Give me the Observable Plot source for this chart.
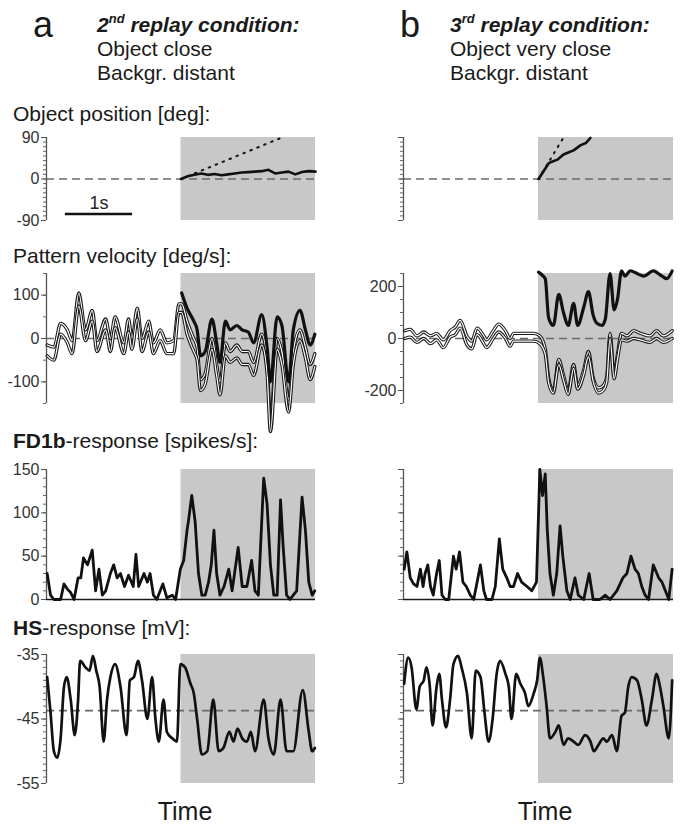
<!DOCTYPE html>
<html><head><meta charset="utf-8">
<script src="https://cdn.jsdelivr.net/npm/d3@7"></script>
<script src="https://cdn.jsdelivr.net/npm/@observablehq/plot@0.6"></script>
<style>
body{margin:0;background:#fff;}
#fig{position:relative;width:683px;height:825px;font-family:"Liberation Sans",Arial,sans-serif;overflow:hidden;}
</style></head><body><div id="fig"></div>
<script>
// ---------- texts ----------
const panelLetters = ["a", "b"];
const conditionNumbers = ["2", "3"];
const conditionSuffixes = ["nd", "rd"];
const conditionTitle = " replay condition:";
const objectDistance = ["Object close", "Object very close"];
const backgroundDistance = ["Backgr. distant", "Backgr. distant"];
const rowBold = ["", "", "FD1b", "HS"];
const rowRest = ["Object position [deg]:", "Pattern velocity [deg/s]:", "-response [spikes/s]:", "-response [mV]:"];
const xAxisLabel = "Time";
const scaleBarLabel = "1s";

// ---------- time window (s) ----------
const timeDomain = [0, 4];
const shadeSpan = [2, 4];
const scaleBarStart = 0.28, scaleBarLength = 1, scaleBarLevel = -76;

// ---------- row 1: object position [deg] ----------
const posTimeL = [2.0,2.1,2.2,2.3,2.4,2.5,2.6,2.7,2.8,2.9,3.0,3.1,3.2,3.3,3.4,3.5,3.6,3.7,3.8,3.9,4.0];
const posObjL  = [0,6,9,12,9,11,8,10,12,14,15,16,17,20,12,14,16,10,15,17,16];
const idealTimeL = [2.0, 3.5];
const idealL = [0, 90];
const posTimeR = [2.0,2.08,2.15,2.19,2.28,2.37,2.45,2.52,2.62,2.7,2.77];
const posObjR  = [0,18,34,37,42,53,58,62,73,78,89];
const idealTimeR = [2.0, 2.37];
const idealR = [0, 90];

// ---------- row 2: pattern velocity [deg/s] ----------
const velBgTimeL = [0.01,0.11,0.21,0.31,0.38,0.48,0.58,0.68,0.75,0.88,0.95,1.02,1.15,1.22,1.27,1.35,1.42,1.52,1.59,1.69,1.79,1.89,1.97,
  2.01,2.09,2.19,2.24,2.29,2.36,2.46,2.53,2.58,2.66,2.73,2.83,2.91,3.0,3.08,3.2,3.28,3.33,3.43,3.5,3.6,3.67,3.77,3.85,3.92,3.99];
const velBgAL = [-15,-20,35,20,-5,105,20,65,-5,45,0,50,-10,45,0,70,0,40,-10,20,-10,-5,80,
  80,40,0,-20,-95,-80,0,-60,-100,-10,-30,-15,-30,-30,-55,10,-50,-190,0,-30,-140,-30,20,-20,-60,-35];
const velBgBL = [-40,-50,10,-10,-35,75,-5,40,-30,20,-30,25,-35,15,-25,45,-30,15,-35,-5,-35,-35,60,
  60,10,-30,-50,-120,-105,-25,-85,-130,-40,-55,-45,-60,-60,-85,-15,-80,-215,-25,-60,-170,-60,-5,-45,-95,-65];
const velObjTimeL = [2.01,2.09,2.19,2.24,2.29,2.36,2.46,2.53,2.58,2.66,2.73,2.83,2.91,3.0,3.08,3.2,3.28,3.33,3.43,3.5,3.6,3.67,3.77,3.85,3.92,3.99];
const velObjL = [105,70,40,20,-40,-30,45,-10,-55,40,20,30,20,15,-10,55,-20,-100,50,30,-100,20,65,20,-15,10];

const velBgTimeR = [0.02,0.1,0.2,0.3,0.4,0.49,0.59,0.69,0.77,0.84,0.94,1.01,1.09,1.19,1.23,1.33,1.41,1.51,1.58,1.63,1.78,1.93,2.02,
  2.1,2.15,2.22,2.3,2.37,2.44,2.52,2.58,2.67,2.74,2.81,2.89,2.96,3.01,3.06,3.12,3.17,3.23,3.31,3.41,3.51,3.65,3.75,3.85,3.98];
const velBgAR = [30,35,10,25,10,20,-5,30,45,70,10,-10,40,10,-5,30,55,30,0,20,20,20,10,
  -40,-150,-200,-80,-140,-200,-100,-180,-120,-50,-150,-190,-180,-150,20,-140,-60,20,10,30,20,10,30,10,30];
const velBgBR = [0,5,-15,0,-20,-5,-35,5,15,40,-25,-40,15,-20,-35,0,25,0,-30,-10,-10,-10,-20,
  -60,-170,-210,-100,-160,-215,-115,-195,-140,-70,-165,-210,-200,-170,0,-155,-80,-5,-10,0,-5,-15,0,-15,0];
const velObjTimeR = [2.0,2.07,2.1,2.15,2.22,2.3,2.37,2.44,2.52,2.58,2.67,2.74,2.81,2.86,2.94,2.99,3.06,3.12,3.17,3.23,3.28,3.36,3.46,3.56,3.7,3.83,3.9,3.98];
const velObjR = [255,240,230,80,50,170,100,50,135,50,120,180,90,60,50,75,250,110,150,260,240,260,250,240,260,240,230,260];

// ---------- row 3: FD1b response [spikes/s] ----------
const fdTimeL = [0.01,0.06,0.11,0.21,0.26,0.31,0.36,0.41,0.47,0.51,0.55,0.61,0.68,0.73,0.78,0.83,0.88,0.95,1.0,1.05,1.10,1.16,1.22,1.29,1.33,
  1.37,1.45,1.50,1.54,1.59,1.64,1.73,1.79,1.87,1.92,1.99,2.04,2.09,2.11,2.16,2.21,2.26,2.31,2.36,2.41,2.45,2.49,2.53,2.58,2.64,
  2.71,2.76,2.85,2.91,2.98,3.05,3.10,3.15,3.23,3.28,3.33,3.38,3.43,3.48,3.52,3.57,3.62,3.67,3.72,3.80,3.85,3.90,3.95,3.99];
const fdL = [30,5,0,0,18,12,8,0,25,25,48,40,57,10,35,5,10,30,40,25,30,15,28,15,52,
  15,30,20,30,5,0,18,2,5,0,35,45,80,90,120,90,30,5,5,20,40,80,30,5,15,
  35,10,60,15,15,45,10,5,140,110,40,5,5,115,60,5,0,5,10,118,80,20,5,10];
const fdTimeR = [0.01,0.05,0.10,0.15,0.20,0.25,0.29,0.32,0.36,0.40,0.44,0.49,0.53,0.57,0.62,0.67,0.74,0.78,0.83,0.88,0.93,0.99,1.04,1.09,1.14,
  1.19,1.23,1.31,1.36,1.42,1.47,1.53,1.58,1.63,1.69,1.75,1.83,1.90,1.97,2.02,2.06,2.10,2.13,2.17,2.22,2.27,2.32,2.36,2.42,2.47,
  2.54,2.59,2.67,2.75,2.81,2.91,2.99,3.06,3.16,3.25,3.31,3.37,3.43,3.48,3.53,3.58,3.63,3.70,3.78,3.83,3.88,3.93,3.98];
const fdR = [35,55,25,18,15,35,15,30,40,15,5,30,45,5,0,0,50,35,55,20,15,5,0,20,40,
  10,0,0,15,70,35,25,15,15,30,20,15,10,20,150,120,145,80,30,5,30,85,50,10,0,
  25,5,0,30,0,0,5,0,10,25,30,50,35,30,15,5,0,40,25,20,10,0,35];

// ---------- row 4: HS response [mV] ----------
const hsRest = -43.7;
const hsTimeL = [0.01,0.06,0.11,0.16,0.21,0.26,0.30,0.36,0.42,0.47,0.50,0.58,0.64,0.69,0.74,0.79,0.85,0.90,0.95,1.02,1.10,1.19,1.24,1.30,1.36,
  1.42,1.50,1.57,1.62,1.67,1.74,1.79,1.87,1.94,1.99,2.06,2.14,2.19,2.24,2.31,2.39,2.48,2.56,2.63,2.72,2.78,2.84,2.91,2.98,3.04,
  3.10,3.23,3.30,3.38,3.48,3.57,3.67,3.81,3.90,3.95,3.99];
const hsL = [-38.5,-44,-50,-51,-48,-40,-38.5,-42,-47.5,-42,-36,-37,-37.5,-35.2,-37.5,-40,-48.5,-42,-38.5,-36.5,-40,-47.5,-39,-38.5,-36,
  -39,-45,-38.5,-45,-48.5,-42,-47,-48,-48.5,-36.5,-37,-39.5,-41,-45,-50.5,-50,-42,-50,-49.5,-47,-48.5,-46.5,-48,-48.5,-47,
  -50,-42,-48,-50.5,-42,-50,-50,-40.5,-47,-50,-49.5];
const hsTimeR = [0.01,0.07,0.12,0.19,0.24,0.30,0.34,0.39,0.43,0.49,0.53,0.57,0.63,0.69,0.74,0.81,0.86,0.94,1.01,1.07,1.14,1.20,1.26,1.32,1.38,
  1.43,1.51,1.56,1.60,1.67,1.73,1.80,1.85,1.93,1.98,2.02,2.07,2.12,2.17,2.25,2.30,2.37,2.44,2.52,2.59,2.69,2.77,2.82,2.89,2.96,
  3.01,3.09,3.16,3.23,3.28,3.33,3.38,3.46,3.53,3.60,3.68,3.75,3.80,3.85,3.93,3.98];
const hsR = [-39.5,-35.5,-37,-43.5,-40,-39,-37,-40,-46,-40,-38,-42,-46.3,-42,-36.5,-35.2,-37,-41,-48,-37.5,-38.5,-44,-48.5,-45,-38,
  -36,-38,-40,-45,-38,-39.5,-41,-43,-41,-39,-35.5,-38.5,-43,-48,-47,-46,-49,-48,-48.5,-49,-47.5,-48.5,-50,-49,-48,
  -48.5,-47.5,-50,-44.5,-44,-40,-38.5,-39,-42,-46,-42,-38,-40,-43,-48,-39];

// ---------- axis ticks ----------
const posMajor = [-90, 0, 90];
const velMajorL = [-100, 0, 100];
const velMajorR = [-200, 0, 200];
const fdMajor = [0, 50, 100, 150];
const hsMajor = [-55, -45, -35];

// ---------- drawing ----------
const fig = document.getElementById("fig");
const FONT = "Liberation Sans, Arial, sans-serif";
const pts = (ts, vs) => ts.map((t, i) => ({t, v: vs[i]}));
const range = (a, b, s) => d3.range(a, b + s / 2, s);

const cols = [{fl: 46, fr: 315}, {fl: 403, fr: 673}];
const rows = [{ft: 137, fb: 220}, {ft: 273, fb: 403}, {ft: 469, fb: 599}, {ft: 654, fb: 783}];

function solid(data, w, curve) {
  return Plot.line(data, {x: "t", y: "v", stroke: "#111", strokeWidth: w, curve: curve || "linear", strokeLinejoin: "round"});
}
function hollow(data) {
  return [
    Plot.line(data, {x: "t", y: "v", stroke: "#1a1a1a", strokeWidth: 3.3, curve: "monotone-x", strokeLinejoin: "round"}),
    Plot.line(data, {x: "t", y: "v", stroke: "#fff", strokeWidth: 1.2, curve: "monotone-x", strokeLinejoin: "round"})
  ];
}

function panel(col, row, c) {
  const mL = 48, mR = 12, mT = 10, mB = 36;
  const {fl, fr} = cols[col], {ft, fb} = rows[row];
  const [lo, hi] = c.domain;
  const majorOpts = {ticks: c.major, tickSize: 5, tickPadding: 2, label: null, stroke: "#555"};
  if (c.labels) { majorOpts.tickFormat = d => String(d); majorOpts.fontSize = 16; majorOpts.fill = "#333"; }
  else majorOpts.text = null;
  const marks = [
    Plot.rect([shadeSpan], {x1: d => d[0], x2: d => d[1], y1: () => lo, y2: () => hi, fill: "#c8c8c8"}),
    c.refSolid
      ? Plot.ruleY([c.ref], {stroke: "#1a1a1a", strokeWidth: 1.6})
      : Plot.ruleY([c.ref], {stroke: "#6a6a6a", strokeWidth: 1.6, strokeDasharray: "8,5"}),
    Plot.axisY({ticks: c.minor, tickSize: 3, text: null, label: null, stroke: "#666"}),
    Plot.axisY(majorOpts),
    Plot.ruleX([timeDomain[0]], {y1: () => lo, y2: () => hi, stroke: "#555", strokeWidth: 1.3}),
    ...c.marks
  ];
  const svg = Plot.plot({
    width: (fr - fl) + mL + mR,
    height: (fb - ft) + mT + mB,
    marginLeft: mL, marginRight: mR, marginTop: mT, marginBottom: mB,
    x: {domain: timeDomain, axis: null},
    y: {domain: c.domain},
    style: {fontFamily: FONT, fontSize: "16px", color: "#333", background: "transparent", overflow: "visible"},
    marks
  });
  svg.style.position = "absolute";
  svg.style.left = (fl - mL) + "px";
  svg.style.top = (ft - mT) + "px";
  svg.style.overflow = "visible";
  fig.appendChild(svg);
}

// Row 1
panel(0, 0, {domain: [-90, 90], major: posMajor, minor: range(-90, 90, 10), labels: true, ref: 0, marks: [
  Plot.line(pts(idealTimeL, idealL), {x: "t", y: "v", stroke: "#111", strokeWidth: 2, strokeDasharray: "1.5,6", strokeLinecap: "round"}),
  solid(pts(posTimeL, posObjL), 2.6),
  Plot.ruleY([scaleBarLevel], {x1: () => scaleBarStart, x2: () => scaleBarStart + scaleBarLength, stroke: "#111", strokeWidth: 2.5}),
  Plot.text([scaleBarLabel], {x: () => scaleBarStart + scaleBarLength / 2, y: () => scaleBarLevel, text: d => d, dy: -5, lineAnchor: "bottom", fontSize: 18, fill: "#222"})
]});
panel(1, 0, {domain: [-90, 90], major: posMajor, minor: range(-90, 90, 10), labels: false, ref: 0, marks: [
  Plot.line(pts(idealTimeR, idealR), {x: "t", y: "v", stroke: "#111", strokeWidth: 2, strokeDasharray: "1.5,6", strokeLinecap: "round"}),
  solid(pts(posTimeR, posObjR), 2.6)
]});
// Row 2
panel(0, 1, {domain: [-150, 150], major: velMajorL, minor: range(-150, 150, 50), labels: true, ref: 0, marks: [
  ...hollow(pts(velBgTimeL, velBgAL)),
  ...hollow(pts(velBgTimeL, velBgBL)),
  solid(pts(velObjTimeL, velObjL), 3.2, "monotone-x")
]});
panel(1, 1, {domain: [-250, 250], major: velMajorR, minor: range(-250, 250, 50), labels: true, ref: 0, marks: [
  ...hollow(pts(velBgTimeR, velBgAR)),
  ...hollow(pts(velBgTimeR, velBgBR)),
  solid(pts(velObjTimeR, velObjR), 3.2, "monotone-x")
]});
// Row 3
panel(0, 2, {domain: [0, 150], major: fdMajor, minor: range(0, 150, 10), labels: true, ref: 0, refSolid: true, marks: [
  solid(pts(fdTimeL, fdL), 2.8)
]});
panel(1, 2, {domain: [0, 150], major: fdMajor, minor: range(0, 150, 10), labels: false, ref: 0, refSolid: true, marks: [
  solid(pts(fdTimeR, fdR), 2.8)
]});
// Row 4
panel(0, 3, {domain: [-55, -35], major: hsMajor, minor: range(-55, -35, 1), labels: true, ref: hsRest, marks: [
  solid(pts(hsTimeL, hsL), 2.7, "monotone-x")
]});
panel(1, 3, {domain: [-55, -35], major: hsMajor, minor: range(-55, -35, 1), labels: false, ref: hsRest, marks: [
  solid(pts(hsTimeR, hsR), 2.7, "monotone-x")
]});

// ---------- text overlay ----------
const ov = d3.create("svg").attr("width", 683).attr("height", 825)
  .style("position", "absolute").style("left", "0px").style("top", "0px")
  .attr("font-family", FONT).attr("fill", "#1a1a1a");
const letterX = [33, 400], headX = [97, 450];
panelLetters.forEach((L, i) => {
  ov.append("text").attr("x", letterX[i]).attr("y", 37).attr("font-size", 36).text(L);
  const h = ov.append("text").attr("x", headX[i]).attr("y", 32).attr("font-size", 21)
    .attr("font-weight", "bold").attr("font-style", "italic");
  h.append("tspan").text(conditionNumbers[i]);
  h.append("tspan").attr("font-size", 13).attr("dy", -9).text(conditionSuffixes[i]);
  h.append("tspan").attr("dy", 9).text(conditionTitle);
  ov.append("text").attr("x", headX[i]).attr("y", 56).attr("font-size", 21).text(objectDistance[i]);
  ov.append("text").attr("x", headX[i]).attr("y", 80).attr("font-size", 21).text(backgroundDistance[i]);
});
const rowTitleY = [121, 263, 448, 635];
rowRest.forEach((r, i) => {
  const t = ov.append("text").attr("x", 13).attr("y", rowTitleY[i]).attr("font-size", 21);
  if (rowBold[i]) t.append("tspan").attr("font-weight", "bold").text(rowBold[i]);
  t.append("tspan").text(r);
});
[185, 545].forEach(x => {
  ov.append("text").attr("x", x).attr("y", 820).attr("font-size", 25).attr("text-anchor", "middle").text(xAxisLabel);
});
fig.appendChild(ov.node());
</script></body></html>
